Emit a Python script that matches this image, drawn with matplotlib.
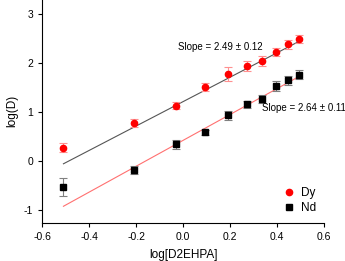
import matplotlib
matplotlib.use("Agg")
import matplotlib.pyplot as plt
import numpy as np

plt.rcParams['font.family'] = ['Liberation Sans', 'DejaVu Sans']

x = [-0.51, -0.21, -0.032, 0.092, 0.192, 0.27, 0.336, 0.394, 0.444, 0.491]
dy = [0.28, 0.79, 1.13, 1.51, 1.78, 1.95, 2.05, 2.23, 2.39, 2.50]
dy_err = [0.09, 0.08, 0.07, 0.08, 0.15, 0.10, 0.10, 0.09, 0.09, 0.08]
nd = [-0.52, -0.18, 0.35, 0.59, 0.94, 1.16, 1.27, 1.54, 1.65, 1.77]
nd_err = [0.19, 0.08, 0.09, 0.05, 0.09, 0.08, 0.08, 0.10, 0.10, 0.10]

dy_fit = (2.49, 1.22)   # slope, intercept
nd_fit = (2.64, 0.43)

fig = plt.figure(figsize=(3.45, 2.61), dpi=100)
ax = fig.add_axes([0.1226, 0.147, 0.8174, 0.853])

xf = np.array([x[0], x[-1]])
ax.plot(xf, dy_fit[0] * xf + dy_fit[1], color='#555555', lw=0.8, zorder=1)
ax.plot(xf, nd_fit[0] * xf + nd_fit[1], color='#ff7070', lw=0.8, zorder=1)

ax.errorbar(x, dy, yerr=dy_err, fmt='o', color='red', ms=4.5, ecolor='#ff9090',
            elinewidth=0.8, capsize=2.8, capthick=0.8, label='Dy', zorder=3)
ax.errorbar(x, nd, yerr=nd_err, fmt='s', color='black', ms=4.2, ecolor='#808080',
            elinewidth=0.8, capsize=2.8, capthick=0.8, label='Nd', zorder=3)

ax.text(0.156, 2.33, 'Slope = 2.49 ± 0.12', fontsize=7, ha='center', va='center')
ax.text(0.333, 1.08, 'Slope = 2.64 ± 0.11', fontsize=7, ha='left', va='center', clip_on=False)

ax.set_xlim(-0.6, 0.6)
ax.set_ylim(-1.25, 3.29)
ax.set_xticks([-0.6, -0.4, -0.2, 0.0, 0.2, 0.4, 0.6])
ax.set_xticklabels(['-0.6', '-0.4', '-0.2', '0.0', '0.2', '0.4', '0.6'])
ax.set_yticks([-1, 0, 1, 2, 3])
ax.set_yticklabels(['-1', '0', '1', '2', '3'])
for s in ['top', 'right']:
    ax.spines[s].set_visible(False)
for s in ['left', 'bottom']:
    ax.spines[s].set_linewidth(0.8)
ax.tick_params(direction='out', length=3, width=0.8, labelsize=7.5)
ax.set_xlabel('log[D2EHPA]', fontsize=8.5, labelpad=5)
ax.set_ylabel('log(D)', fontsize=8.5)

handles, labels = ax.get_legend_handles_labels()
leg = ax.legend([h[0] for h in handles], labels, loc='lower right', frameon=False,
                fontsize=8.5, handletextpad=0.5, borderaxespad=0.3, labelspacing=0.25,
                handlelength=1.0, bbox_to_anchor=(1.0, 0.0))

fig.savefig('out.png', dpi=100)
